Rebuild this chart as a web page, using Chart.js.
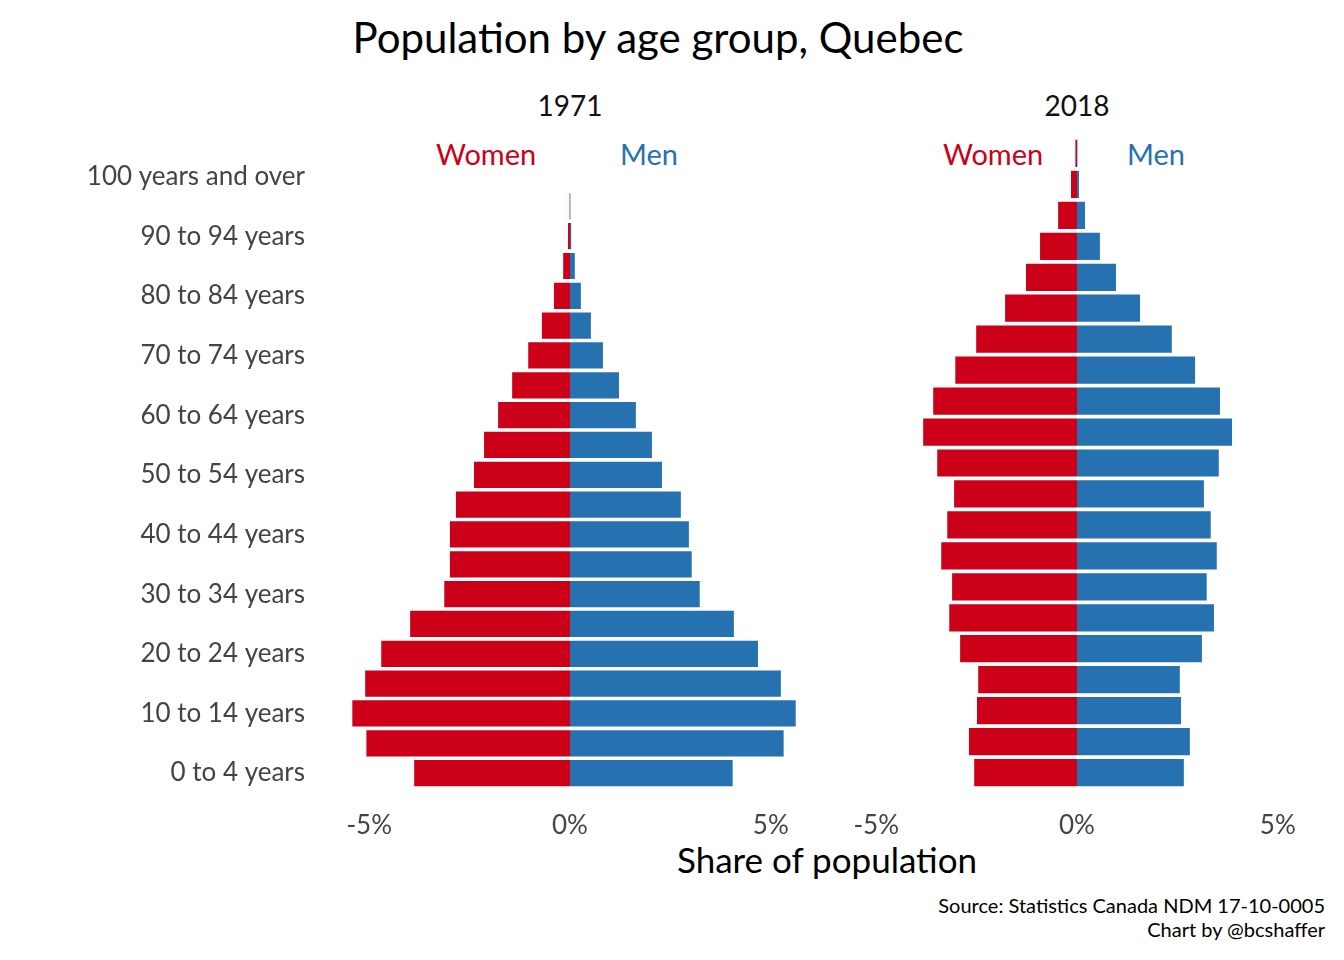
<!DOCTYPE html>
<html>
<head>
<meta charset="utf-8">
<script src="https://cdn.jsdelivr.net/npm/chart.js@4"></script>
<style>
  body { margin:0; width:1344px; height:960px; position:relative; background:#fff; font-family:Lato, sans-serif; overflow:hidden; }
  .t { position:absolute; white-space:nowrap; }
  .box { position:absolute; }
</style>
</head>
<body>
<div class="t" style="left:0;width:1316px;top:12px;text-align:center;font-size:42px;color:#000;">Population by age group, Quebec</div>
<div class="t" style="left:470px;width:200px;top:88px;text-align:center;font-size:28px;color:#111;">1971</div>
<div class="t" style="left:977px;width:200px;top:88px;text-align:center;font-size:28px;color:#111;">2018</div>
<div class="t" style="left:436px;top:136px;font-size:29px;color:#CC0019;">Women</div>
<div class="t" style="left:620px;top:136px;font-size:29px;color:#2671B0;">Men</div>
<div class="t" style="left:943px;top:136px;font-size:29px;color:#CC0019;">Women</div>
<div class="t" style="left:1127px;top:136px;font-size:29px;color:#2671B0;">Men</div>
<div class="t" style="left:0;width:1654px;top:838px;text-align:center;font-size:35px;color:#000;">Share of population</div>
<div class="t" style="right:19px;top:893px;text-align:right;font-size:20px;line-height:24px;color:#000;">Source: Statistics Canada NDM 17-10-0005<br>Chart by @bcshaffer</div>
<div class="box" style="left:0;top:138px;width:819px;height:700px;"><canvas id="c1"></canvas></div>
<div class="box" style="left:828px;top:138px;width:498px;height:700px;"><canvas id="c2"></canvas></div>
<script>
var ageGroups = ['0 to 4 years','5 to 9 years','10 to 14 years','15 to 19 years','20 to 24 years','25 to 29 years','30 to 34 years','35 to 39 years','40 to 44 years','45 to 49 years','50 to 54 years','55 to 59 years','60 to 64 years','65 to 69 years','70 to 74 years','75 to 79 years','80 to 84 years','85 to 89 years','90 to 94 years','95 to 99 years','100 years and over'];
var women1971 = [3.88,5.07,5.42,5.10,4.70,3.98,3.13,2.99,2.99,2.84,2.39,2.14,1.79,1.44,1.04,0.70,0.40,0.17,0.05,0.01,0];
var men1971   = [4.05,5.32,5.62,5.25,4.68,4.08,3.23,3.03,2.96,2.76,2.29,2.04,1.64,1.22,0.82,0.52,0.27,0.12,0.03,0.01,0];
var women2018 = [2.56,2.69,2.49,2.46,2.91,3.18,3.11,3.38,3.23,3.06,3.48,3.83,3.58,3.03,2.51,1.79,1.27,0.92,0.47,0.15,0.04];
var men2018   = [2.66,2.81,2.59,2.56,3.11,3.41,3.23,3.48,3.33,3.16,3.53,3.86,3.56,2.94,2.36,1.57,0.97,0.57,0.20,0.05,0.01];
var xTicks = [-5, 0, 5];

var red = '#CC0019', blue = '#2671B0';

function makeChart(id, women, men, showY) {
  var ctx = document.getElementById(id).getContext('2d');
  return new Chart(ctx, {
    type: 'bar',
    data: {
      labels: ageGroups,
      datasets: [
        { label: 'Women', data: women.map(function(v){ return -v; }), backgroundColor: red },
        { label: 'Men', data: men, backgroundColor: blue }
      ]
    },
    options: {
      indexAxis: 'y',
      responsive: true,
      maintainAspectRatio: false,
      animation: false,
      layout: { padding: 0 },
      categoryPercentage: 1.0,
      barPercentage: 0.88,
      plugins: { legend: { display: false }, tooltip: { enabled: false } },
      scales: {
        x: {
          stacked: true, min: -6.2, max: 6.2,
          grid: { display: false }, border: { display: false },
          afterBuildTicks: function(s) { s.ticks = xTicks.map(function(v){ return { value: v }; }); },
          afterFit: function(s) { s.height = 50; },
          ticks: { padding: 14, color: '#444', font: { family: 'Lato', size: 26 },
                   callback: function(v) { return v + '%'; } }
        },
        y: {
          stacked: true, reverse: true, display: showY,
          grid: { display: false }, border: { display: false },
          afterFit: function(s) { if (showY) s.width = 321; },
          ticks: { padding: 8, color: '#444', font: { family: 'Lato', size: 26 } }
        }
      }
    }
  });
}

window.onload = function() {
  window.chart1971 = makeChart('c1', women1971, men1971, true);
  window.chart2018 = makeChart('c2', women2018, men2018, false);
};
</script>
</body>
</html>
